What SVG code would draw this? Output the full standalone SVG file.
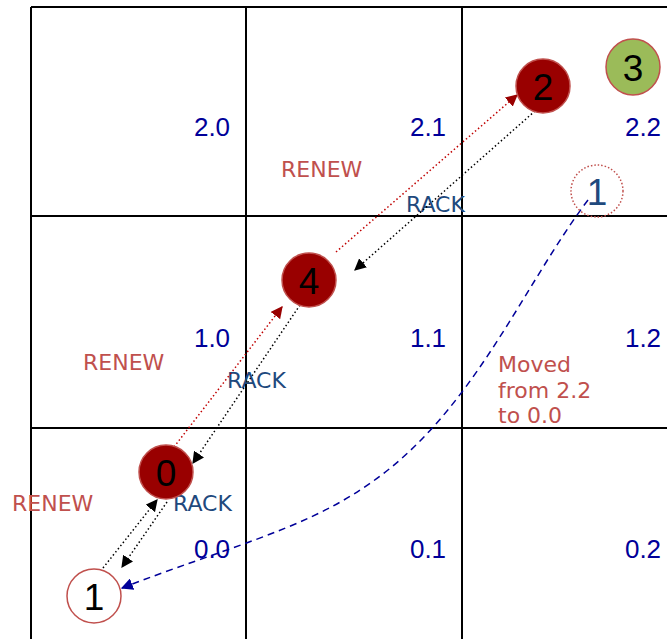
<svg xmlns="http://www.w3.org/2000/svg" width="667" height="639" viewBox="0 0 667 639">
<style>
.grid{stroke:#000;stroke-width:2;fill:none}
.cell{font-family:"Liberation Sans",Arial,sans-serif;font-size:26px;fill:#000099;text-anchor:middle}
.renew{font-family:"DejaVu Sans","Liberation Sans",sans-serif;font-size:22px;fill:#C0504D}
.rack{font-family:"DejaVu Sans","Liberation Sans",sans-serif;font-size:22px;fill:#1F497D}
.num{font-family:"Liberation Sans",Arial,sans-serif;font-size:37px;fill:#000;text-anchor:middle}
.red{fill:#990000;stroke:#C0504D;stroke-width:1.5}
.rl{stroke:#C00000;stroke-width:1.5;stroke-dasharray:1.5 2.5;fill:none;marker-end:url(#ar)}
.bl{stroke:#000;stroke-width:1.5;stroke-dasharray:1.5 2.5;fill:none;marker-end:url(#ab)}
</style>
<defs>
<marker id="ar" viewBox="0 0 10 10" refX="9" refY="5" markerWidth="12" markerHeight="12" markerUnits="userSpaceOnUse" orient="auto"><path d="M0,0 L10,5 L0,10 z" fill="#990000"/></marker>
<marker id="ab" viewBox="0 0 10 10" refX="9" refY="5" markerWidth="12" markerHeight="12" markerUnits="userSpaceOnUse" orient="auto"><path d="M0,0 L10,5 L0,10 z" fill="#000"/></marker>
<marker id="an" viewBox="0 0 10 10" refX="9" refY="5" markerWidth="12" markerHeight="12" markerUnits="userSpaceOnUse" orient="auto"><path d="M0,0 L10,5 L0,10 z" fill="#000099"/></marker>
</defs>
<rect width="667" height="639" fill="#fff"/>
<g id="grid">
<path class="grid" d="M31,7 H667 M31,216 H667 M31,428 H667 M31,7 V639 M246,7 V639 M462,7 V639"/>
</g>
<g id="labels">
<text class="cell" x="212" y="136">2.0</text>
<text class="cell" x="428" y="136">2.1</text>
<text class="cell" x="643" y="136">2.2</text>
<text class="cell" x="212" y="347">1.0</text>
<text class="cell" x="428" y="347">1.1</text>
<text class="cell" x="643" y="347">1.2</text>
<text class="cell" x="212" y="558">0.0</text>
<text class="cell" x="428" y="558">0.1</text>
<text class="cell" x="643" y="558">0.2</text>
<text class="renew" x="281" y="177">RENEW</text>
<text class="renew" x="83" y="370">RENEW</text>
<text class="renew" x="12" y="511">RENEW</text>
<text class="rack" x="406" y="212">RACK</text>
<text class="rack" x="227" y="388">RACK</text>
<text class="rack" x="173" y="511">RACK</text>
<text class="renew"><tspan x="498" y="372">Moved</tspan><tspan x="498" y="398">from 2.2</tspan><tspan x="498" y="423">to 0.0</tspan></text>
</g>
<g id="connectors">
<path class="rl" d="M174,447 L282,307"/>
<path class="rl" d="M336,252 L517,95"/>
<path class="bl" d="M535,111 L355,270"/>
<path class="bl" d="M300,305 L193,463"/>
<path class="bl" d="M103,568 L157,500"/>
<path class="bl" d="M167,502 L122,567"/>
<path d="M588,200 C 520,290 470,420 360,490 C 300,530 220,550 122,588" fill="none" stroke="#000099" stroke-width="1.5" stroke-dasharray="7 5" marker-end="url(#an)"/>
</g>
<g id="node2"><circle class="red" cx="543" cy="86" r="27"/><text class="num" x="543" y="100">2</text></g>
<g id="node3"><ellipse cx="633" cy="67" rx="27" ry="28" fill="#9BBB59" stroke="#C0504D" stroke-width="1.5"/><text class="num" x="633" y="81">3</text></g>
<g id="node4"><circle class="red" cx="309" cy="280" r="27"/><text class="num" x="309" y="294">4</text></g>
<g id="node0"><circle class="red" cx="166" cy="472" r="27"/><text class="num" x="166" y="486">0</text></g>
<g id="node1"><circle cx="94" cy="596" r="27" fill="#fff" stroke="#C0504D" stroke-width="1.5"/><text class="num" x="94" y="610">1</text></g>
<g id="node1ghost"><circle cx="597" cy="191" r="26" fill="none" stroke="#C0504D" stroke-width="1.5" stroke-dasharray="1.5 2"/><text class="num" x="597" y="205" style="fill:#1F497D">1</text></g>
</svg>
